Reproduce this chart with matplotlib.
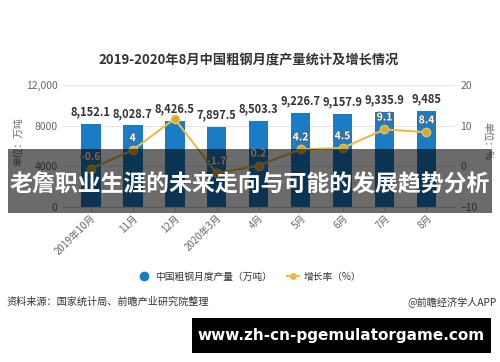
import matplotlib.pyplot as plt
import matplotlib.patheffects as pe
from matplotlib.patches import Rectangle
from matplotlib.lines import Line2D

plt.rcParams['font.family'] = ['Noto Sans CJK SC', 'DejaVu Sans']

months = ['2019年10月', '11月', '12月', '2020年3月', '4月', '5月', '6月', '7月', '8月']
output = [8152.1, 8028.7, 8426.5, 7897.5, 8503.3, 9226.7, 9157.9, 9335.9, 9485]
output_labels = ['8,152.1', '8,028.7', '8,426.5', '7,897.5', '8,503.3', '9,226.7', '9,157.9', '9,335.9', '9,485']
growth = [-0.6, 4, 11.7, -1.7, 0.2, 4.2, 4.5, 9.1, 8.4]
growth_labels = ['-0.6', '4', '', '-1.7', '0.2', '4.2', '4.5', '9.1', '8.4']

left_ticks = [0, 4000, 8000, 12000]
left_ticklabels = ['0', '4000', '8000', '12,000']
right_ticks = [-10, 0, 10, 20]

bar_color = '#1b7cc6'
line_color = '#e8bc45'
text_gray = '#666666'

fig = plt.figure(figsize=(5, 3.62), dpi=100)
ax = fig.add_axes([0.126, 0.428, 0.784, 0.337])
ax2 = ax.twinx()

x = list(range(len(months)))
ax.bar(x, output, width=0.47, color=bar_color, zorder=2)
ax.set_ylim(0, 12000)
ax.set_xlim(-0.66, 8.68)
ax.set_yticks(left_ticks)
ax.set_yticklabels(left_ticklabels)
ax.grid(axis='y', color='#e4e4e4', lw=0.8, zorder=0)
ax.set_axisbelow(True)
for s in ['top', 'left', 'right']:
    ax.spines[s].set_visible(False)
ax.spines['bottom'].set_color('#d0d0d0')
ax.tick_params(axis='y', length=0, labelsize=7.5, labelcolor=text_gray, pad=4)
ax.tick_params(axis='x', length=3, color='#cccccc', labelsize=7, labelcolor=text_gray, pad=1)
ax.set_xticks(x)
ax.set_xticklabels(months, rotation=45, ha='right', rotation_mode='anchor')

for xi, v, lab in zip(x, output, output_labels):
    ax.annotate(lab, (xi, v), xytext=(0, 4), textcoords='offset points',
                ha='center', va='bottom', fontsize=8, fontweight='bold', color='#333333')

ax2.plot(x, growth, color=line_color, lw=1.5, marker='o', markersize=6,
         markerfacecolor='#d8a832', markeredgecolor='#e8c060', zorder=3)
ax2.set_ylim(-10, 20)
ax2.set_yticks(right_ticks)
for s in ['top', 'left', 'right', 'bottom']:
    ax2.spines[s].set_visible(False)
ax2.tick_params(axis='y', length=0, labelsize=7.5, labelcolor=text_gray, pad=4)

for xi, v, lab in zip(x, growth, growth_labels):
    if lab:
        ax2.annotate(lab, (xi, v), xytext=(0, 5), textcoords='offset points',
                     ha='center', va='bottom', fontsize=7.5, fontweight='bold', color='white',
                     path_effects=[pe.withStroke(linewidth=1.6, foreground='#4a6a88')])

fig.text(0.036, 0.61, '单位：万吨', rotation=90, ha='center', va='center', fontsize=7, color=text_gray)
fig.text(0.974, 0.61, '单位：%', rotation=270, ha='center', va='center', fontsize=7, color=text_gray)

fig.text(0.498, 0.834, '2019-2020年8月中国粗钢月度产量统计及增长情况', ha='center', va='center',
         fontsize=9.5, fontweight='bold', color='#333333')

# legend
handles = [Line2D([], [], marker='o', ls='none', color=bar_color, markersize=6),
           Line2D([], [], marker='o', color=line_color, markersize=4, lw=1.5)]
fig.legend(handles, ['中国粗钢月度产量（万吨）', '增长率（%）'], loc='center', bbox_to_anchor=(0.5, 0.236),
           ncol=2, frameon=False, fontsize=7, handlelength=1.2, columnspacing=1.6, handletextpad=0.5,
           labelcolor='#333333')

fig.text(0.012, 0.167, '资料来源：国家统计局、前瞻产业研究院整理', ha='left', va='center', fontsize=7.3, color='#333333')
fig.text(0.994, 0.167, '@前瞻经济学人APP', ha='right', va='center', fontsize=7.3, color='#333333')

# overlay banner
fig.patches.append(Rectangle((0.016, 0.4116), 0.968, 0.177, transform=fig.transFigure,
                             facecolor='black', alpha=0.58, zorder=10))
fig.text(0.5, 0.492, '老詹职业生涯的未来走向与可能的发展趋势分析', ha='center', va='center',
         fontsize=16.5, fontweight='bold', color='white', zorder=11)

fig.patches.append(Rectangle((0.384, 0.025), 0.598, 0.097, transform=fig.transFigure,
                             facecolor='black', zorder=10))
fig.text(0.683, 0.074, 'www.zh-cn-pgemulatorgame.com', ha='center', va='center',
         fontsize=11, fontweight='bold', color='white', family='DejaVu Sans', zorder=11)

fig.savefig('out.png', dpi=100)
